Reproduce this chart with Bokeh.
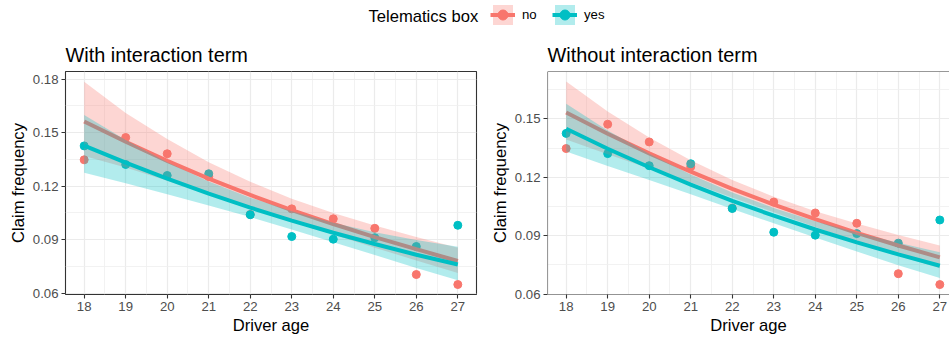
from bokeh.plotting import figure
from bokeh.models import (Range1d, FixedTicker, PrintfTickFormatter, Legend,
                          LegendItem, Label, Span)
from bokeh.layouts import column, row
from bokeh.embed import file_html
from bokeh.resources import INLINE

# Observed claim frequency by driver age and telematics box
ages = [18, 19, 20, 21, 22, 23, 24, 25, 26, 27]
no_freq = [0.1348, 0.1473, 0.1382, 0.1254, 0.1042, 0.1073, 0.1017, 0.0964, 0.0705, 0.0649]
yes_freq = [0.1426, 0.1322, 0.1260, 0.1270, 0.1040, 0.0918, 0.0903, 0.0911, 0.0862, 0.0981]

# Fitted frequency and confidence band, model with interaction term
int_no_fit = [0.1563, 0.1449, 0.1342, 0.1243, 0.1151, 0.1066, 0.0988, 0.0915, 0.0847, 0.0781]
int_no_lo = [0.1370, 0.1305, 0.1230, 0.1157, 0.1082, 0.1006, 0.0930, 0.0855, 0.0784, 0.0713]
int_no_hi = [0.1786, 0.1610, 0.1465, 0.1335, 0.1225, 0.1130, 0.1050, 0.0980, 0.0915, 0.0855]
int_yes_fit = [0.1428, 0.1332, 0.1242, 0.1158, 0.1080, 0.1007, 0.0939, 0.0876, 0.0816, 0.0761]
int_yes_lo = [0.1275, 0.1216, 0.1155, 0.1092, 0.1027, 0.0957, 0.0886, 0.0815, 0.0742, 0.0673]
int_yes_hi = [0.1599, 0.1459, 0.1335, 0.1227, 0.1136, 0.1059, 0.0995, 0.0942, 0.0898, 0.0860]

# Fitted frequency and confidence band, model without interaction term
add_no_fit = [0.1533, 0.1424, 0.1323, 0.1229, 0.1141, 0.1060, 0.0985, 0.0915, 0.0850, 0.0789]
add_no_lo = [0.1394, 0.1319, 0.1246, 0.1173, 0.1097, 0.1021, 0.0945, 0.0870, 0.0799, 0.0733]
add_no_hi = [0.1692, 0.1538, 0.1405, 0.1288, 0.1187, 0.1100, 0.1026, 0.0963, 0.0904, 0.0850]
add_yes_fit = [0.1450, 0.1347, 0.1252, 0.1163, 0.1079, 0.1003, 0.0932, 0.0866, 0.0804, 0.0746]
add_yes_lo = [0.1333, 0.1259, 0.1187, 0.1113, 0.1038, 0.0964, 0.0891, 0.0819, 0.0748, 0.0683]
add_yes_hi = [0.1578, 0.1441, 0.1321, 0.1215, 0.1122, 0.1043, 0.0975, 0.0916, 0.0864, 0.0815]

x_ticks = ages
x_minor = [17.5 + i for i in range(11)]
left_y_ticks = [0.06, 0.09, 0.12, 0.15, 0.18]
right_y_ticks = [0.06, 0.09, 0.12, 0.15]
y_minor = [0.045, 0.075, 0.105, 0.135, 0.165, 0.195]

RED = "#F8766D"
TEAL = "#00BFC4"
FONT = "Liberation Sans"
BAND_ALPHA = 0.3


def draw_series(p, no_fit, no_lo, no_hi, yes_fit, yes_lo, yes_hi):
    pts_no = p.scatter(ages, no_freq, size=8, color=RED)
    pts_yes = p.scatter(ages, yes_freq, size=8, color=TEAL)
    band_no = p.varea(x=ages, y1=no_lo, y2=no_hi, fill_color=RED, fill_alpha=BAND_ALPHA)
    line_no = p.line(ages, no_fit, line_color=RED, line_width=4)
    band_yes = p.varea(x=ages, y1=yes_lo, y2=yes_hi, fill_color=TEAL, fill_alpha=BAND_ALPHA)
    line_yes = p.line(ages, yes_fit, line_color=TEAL, line_width=4)
    return (band_no, line_no, pts_no), (band_yes, line_yes, pts_yes)


def make_panel(title, width, left_border, right_border, x_end, y_start, y_end, y_ticks):
    p = figure(width=width, height=304, x_range=Range1d(17.55, x_end),
               y_range=Range1d(y_start, y_end), output_backend="svg",
               toolbar_location=None, min_border_left=left_border,
               min_border_right=right_border, min_border_top=37, min_border_bottom=44)
    p.background_fill_color = "white"
    p.border_fill_color = "white"
    p.outline_line_color = "#333333"
    p.outline_line_width = 1.1

    p.title.text = title
    p.title.text_font = FONT
    p.title.text_font_size = "19.9px"
    p.title.text_font_style = "normal"
    p.title.text_color = "black"
    p.title.align = "left"
    p.title.standoff = 12

    p.xaxis.ticker = FixedTicker(ticks=x_ticks, minor_ticks=x_minor)
    p.yaxis.ticker = FixedTicker(ticks=y_ticks, minor_ticks=y_minor)
    p.yaxis.formatter = PrintfTickFormatter(format="%.2f")
    p.xaxis.axis_label = "Driver age"
    p.yaxis.axis_label = "Claim frequency"
    for ax in (p.xaxis, p.yaxis):
        ax.axis_line_color = None
        ax.major_tick_line_color = "#333333"
        ax.major_tick_line_width = 1.1
        ax.major_tick_out = 4
        ax.major_tick_in = 0
        ax.minor_tick_line_color = None
        ax.major_label_text_font = FONT
        ax.major_label_text_font_size = "13.2px"
        ax.major_label_text_color = "#4D4D4D"
        ax.major_label_standoff = 3
        ax.axis_label_text_font = FONT
        ax.axis_label_text_font_size = "16.6px"
        ax.axis_label_text_font_style = "normal"
        ax.axis_label_text_color = "black"
        ax.axis_label_standoff = 2

    p.grid.grid_line_color = "#EBEBEB"
    p.grid.grid_line_width = 1.2
    p.grid.minor_grid_line_color = "#EFEFEF"
    p.grid.minor_grid_line_width = 0.8
    return p


left = make_panel("With interaction term", 480, 65, 4, 27.45, 0.0593, 0.1843, left_y_ticks)
draw_series(left, int_no_fit, int_no_lo, int_no_hi, int_yes_fit, int_yes_lo, int_yes_hi)

right_x_end = 17.55 + 402 * (9.9 / 411)
right = make_panel("Without interaction term", 469, 67, 0, right_x_end, 0.0598, 0.1744, right_y_ticks)
draw_series(right, add_no_fit, add_no_lo, add_no_hi, add_yes_fit, add_yes_lo, add_yes_hi)
# the panel runs past the page edge, so only three sides of its border are drawn
right.outline_line_color = None
right.add_layout(Span(location=17.55, dimension="height", line_color="#333333", line_width=1.1))
right.add_layout(Span(location=0.0598, dimension="width", line_color="#333333", line_width=1.1))
right.add_layout(Span(location=0.1744, dimension="width", line_color="#333333", line_width=1.1))

# Shared legend strip across the top
leg = figure(width=949, height=34, x_range=Range1d(-2, -1), y_range=Range1d(-2, -1),
             x_axis_location=None, y_axis_location=None, output_backend="svg",
             toolbar_location=None, min_border=0)
leg.outline_line_color = None
leg.grid.visible = False
items_no, items_yes = draw_series(leg, int_no_fit, int_no_lo, int_no_hi,
                                  int_yes_fit, int_yes_lo, int_yes_hi)
legend = Legend(items=[LegendItem(label="no", renderers=list(items_no)),
                       LegendItem(label="yes", renderers=list(items_yes))],
                location=(490, 7), orientation="horizontal",
                glyph_width=25, glyph_height=25, label_height=25,
                label_standoff=7, spacing=10, padding=0, margin=0,
                border_line_color=None, background_fill_alpha=0,
                label_text_font=FONT, label_text_font_size="13.2px",
                label_text_color="black")
leg.add_layout(legend, "center")
leg.add_layout(Label(x=368, y=18, x_units="screen", y_units="screen",
                     text="Telematics box", text_font=FONT, text_font_size="16.6px",
                     text_baseline="middle", text_color="black"))

page = column(leg, row(left, right))
open("out.html", "w").write(file_html(page, INLINE))
